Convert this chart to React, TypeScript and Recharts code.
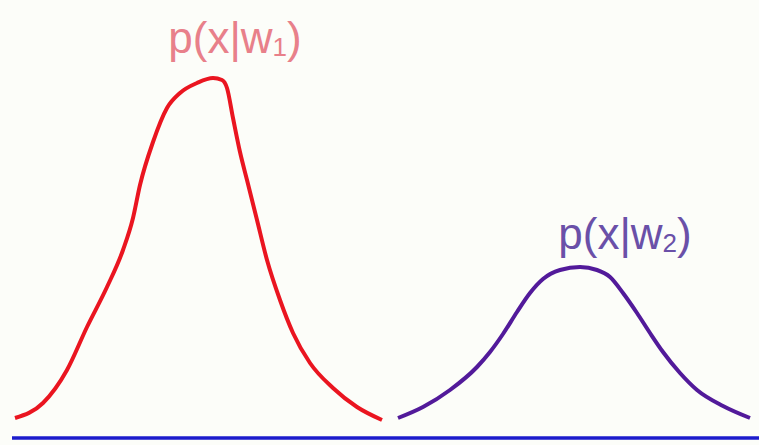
import { Line, LineChart, ReferenceDot, ReferenceLine, XAxis, YAxis } from "recharts";

// class-conditional densities, x in screen units, height above the x-axis
const redX = [15, 43, 67, 87, 107, 123, 133, 140, 153, 167, 180, 197, 213, 222, 227, 233, 240, 247, 257, 267, 280, 293, 310, 333, 357, 382];
const redY = [20, 35, 68, 111, 151, 188, 220, 253, 296, 330, 345, 355, 360, 358, 350, 320, 286, 258, 218, 178, 138, 105, 75, 50, 31, 18];

const purpleX = [398, 423, 450, 477, 490, 503, 517, 530, 543, 560, 580, 597, 610, 623, 637, 650, 663, 680, 697, 723, 750];
const purpleY = [20, 31, 48, 71, 86, 104, 126, 145, 159, 168, 171, 168, 161, 145, 125, 105, 86, 65, 48, 32, 20];

const labelW1 = { x: 235, y: 385, text: "p(x|w", sub: "1" };
const labelW2 = { x: 625, y: 189, text: "p(x|w", sub: "2" };

const rows = [
  ...redX.map((x, i) => ({ x, red: redY[i], purple: null as number | null })),
  ...purpleX.map((x, i) => ({ x, red: null as number | null, purple: purpleY[i] })),
];

const RED = "#ea1520";
const PURPLE = "#521a9a";

function density(color: string, text: string, sub: string) {
  return (props: any) => {
    const { viewBox } = props;
    const cx = viewBox.x + (viewBox.width || 0) / 2;
    const cy = viewBox.y + (viewBox.height || 0) / 2;
    return (
      <text
        x={cx}
        y={cy}
        textAnchor="middle"
        fill={color}
        fontFamily="'Liberation Sans', Arial, sans-serif"
        fontSize={44}
      >
        {text}
        <tspan fontSize={26} dy={3}>
          {sub}
        </tspan>
        <tspan dy={-3}>)</tspan>
      </text>
    );
  };
}

export default function App() {
  return (
    <div style={{ position: "absolute", left: 0, top: 0, width: 759, height: 445, background: "#fcfdf9" }}>
      <LineChart width={759} height={445} data={rows} margin={{ top: 0, right: 0, bottom: 7, left: 0 }}>
        <XAxis type="number" dataKey="x" domain={[0, 759]} hide />
        <YAxis type="number" domain={[0, 438]} hide />
        <ReferenceLine
          segment={[
            { x: 12, y: 0 },
            { x: 759, y: 0 },
          ]}
          stroke="#1c1ccc"
          strokeWidth={3.5}
          ifOverflow="visible"
        />
        <Line
          dataKey="red"
          type="monotone"
          stroke={RED}
          strokeWidth={4}
          dot={false}
          activeDot={false}
          isAnimationActive={false}
        />
        <Line
          dataKey="purple"
          type="monotone"
          stroke={PURPLE}
          strokeWidth={4}
          dot={false}
          activeDot={false}
          isAnimationActive={false}
        />
        <ReferenceDot
          x={labelW1.x}
          y={labelW1.y}
          r={0}
          ifOverflow="visible"
          label={density("#e8808a", labelW1.text, labelW1.sub)}
        />
        <ReferenceDot
          x={labelW2.x}
          y={labelW2.y}
          r={0}
          ifOverflow="visible"
          label={density("#6a50a8", labelW2.text, labelW2.sub)}
        />
      </LineChart>
    </div>
  );
}
